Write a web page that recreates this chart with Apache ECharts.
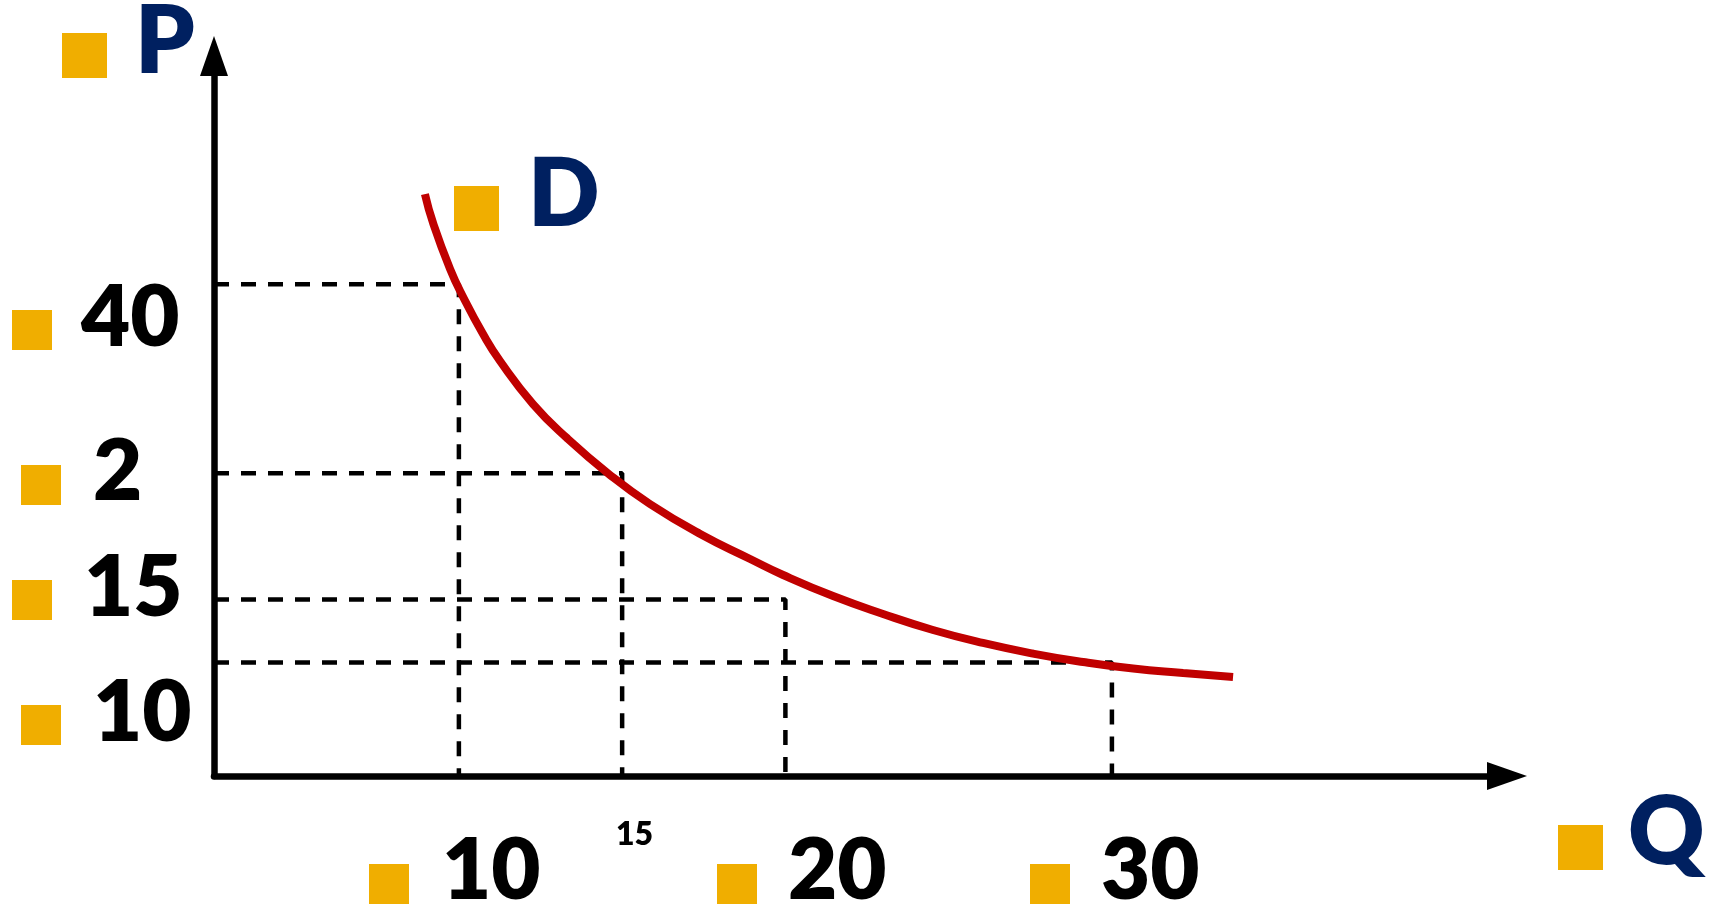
<!DOCTYPE html>
<html>
<head>
<meta charset="utf-8">
<script src="https://cdn.jsdelivr.net/npm/echarts@6/dist/echarts.min.js"></script>
<style>
html,body{margin:0;padding:0;background:#ffffff;}
#chart{width:1710px;height:908px;}
</style>
</head>
<body>
<div id="chart"></div>
<script>
// ---- data ----
const curveQ = [8.96, 9.21, 9.73, 10.13, 10.74, 11.26, 12.27, 13.31, 14.63, 15.85, 17.39, 18.92, 19.93, 21.46, 22.99, 24.52, 26.05, 27.58, 29.12, 30.65, 32.18, 33.71];
const curveP = [47.15, 44.85, 41.21, 38.99, 36.05, 33.91, 30.50, 27.80, 24.87, 22.57, 20.19, 18.21, 16.94, 15.27, 13.85, 12.58, 11.55, 10.71, 10.04, 9.52, 9.17, 8.85];
const guideQ = [10, 15, 20, 30];
const guideP = [40, 25, 15, 10];
const qTickLabels = ['10', '15', '20', '30'];
const pTickLabels = ['40', '2', '15', '10'];
const axisTitleX = 'Q';
const axisTitleY = 'P';
const curveName = 'D';
const Q_MIN = 2.5, Q_MAX = 42.1;
const P_MIN = 1, P_MAX = 58.1;

// ---- styles / layout ----
const YELLOW = '#F0AE00';
const NAVY = '#002060';
const RED = '#C00000';
const FONT = 'Lato, "Open Sans", sans-serif';

const chart = echarts.init(document.getElementById('chart'), null, {renderer: 'canvas'});

const guideSeries = guideQ.map((q, i) => ({
  type: 'line',
  data: [[Q_MIN, guideP[i]], [q, guideP[i]], [q, P_MIN]],
  symbol: 'none',
  silent: true,
  z: 2,
  lineStyle: {color: '#000', width: 4.5, type: [15, 12]}
}));

const curveSeries = {
  type: 'line',
  name: curveName,
  data: curveQ.map((q, i) => [q, curveP[i]]),
  smooth: 0.5,
  symbol: 'none',
  silent: true,
  z: 5,
  lineStyle: {color: RED, width: 8, cap: 'butt', join: 'round'}
};

function sq(x, y, s) {
  return {type: 'rect', shape: {x: x, y: y, width: s, height: s}, style: {fill: YELLOW}, silent: true};
}
function txt(x, y, t, size, color, weight) {
  return {type: 'text', x: x, y: y, silent: true,
    style: {text: t, fill: color, font: (weight || 'bold') + ' ' + size + 'px ' + FONT, align: 'left', verticalAlign: 'middle'}};
}

// label layout positions (pixels)
const yLabelPos = [
  {sx: 12, sy: 310, tx: 81, ty: 319},
  {sx: 21, sy: 465, tx: 93, ty: 473},
  {sx: 12, sy: 580, tx: 84, ty: 589},
  {sx: 21, sy: 705, tx: 93, ty: 714}
];
const xLabelPos = [
  {sx: 369, sy: 864, tx: 442, ty: 872, size: 85, square: true},
  {sx: 0, sy: 0, tx: 616, ty: 835, size: 32, square: false},
  {sx: 717, sy: 864, tx: 788, ty: 872, size: 85, square: true},
  {sx: 1030, sy: 864, tx: 1101, ty: 872, size: 85, square: true}
];

const graphics = [];
pTickLabels.forEach((t, i) => {
  const p = yLabelPos[i];
  graphics.push(sq(p.sx, p.sy, 40));
  graphics.push(txt(p.tx, p.ty, t, 85, '#000', '800'));
});
qTickLabels.forEach((t, i) => {
  const p = xLabelPos[i];
  if (p.square) graphics.push(sq(p.sx, p.sy, 40));
  graphics.push(txt(p.tx, p.ty, t, p.size, '#000', '800'));
});
graphics.push(sq(62, 33, 45));
graphics.push(txt(135, 43, axisTitleY, 94, NAVY, '800'));
graphics.push(sq(1558, 825, 45));
graphics.push(txt(1628, 834, axisTitleX, 94, NAVY, '800'));
graphics.push(sq(454, 186, 45));
graphics.push(txt(528, 196, curveName, 94, NAVY, '800'));

const axisCommon = {
  type: 'value',
  splitLine: {show: false},
  axisTick: {show: false},
  axisLabel: {show: false},
  axisLine: {
    show: true,
    onZero: false,
    symbol: ['none', 'triangle'],
    symbolSize: [28, 40],
    lineStyle: {color: '#000', width: 6.5}
  }
};

chart.setOption({
  animation: false,
  backgroundColor: '#ffffff',
  grid: {left: 214, right: 203, top: 56, bottom: 132, containLabel: false},
  xAxis: Object.assign({}, axisCommon, {min: Q_MIN, max: Q_MAX}),
  yAxis: Object.assign({}, axisCommon, {min: P_MIN, max: P_MAX}),
  series: guideSeries.concat([curveSeries]),
  graphic: graphics
});
</script>
</body>
</html>
